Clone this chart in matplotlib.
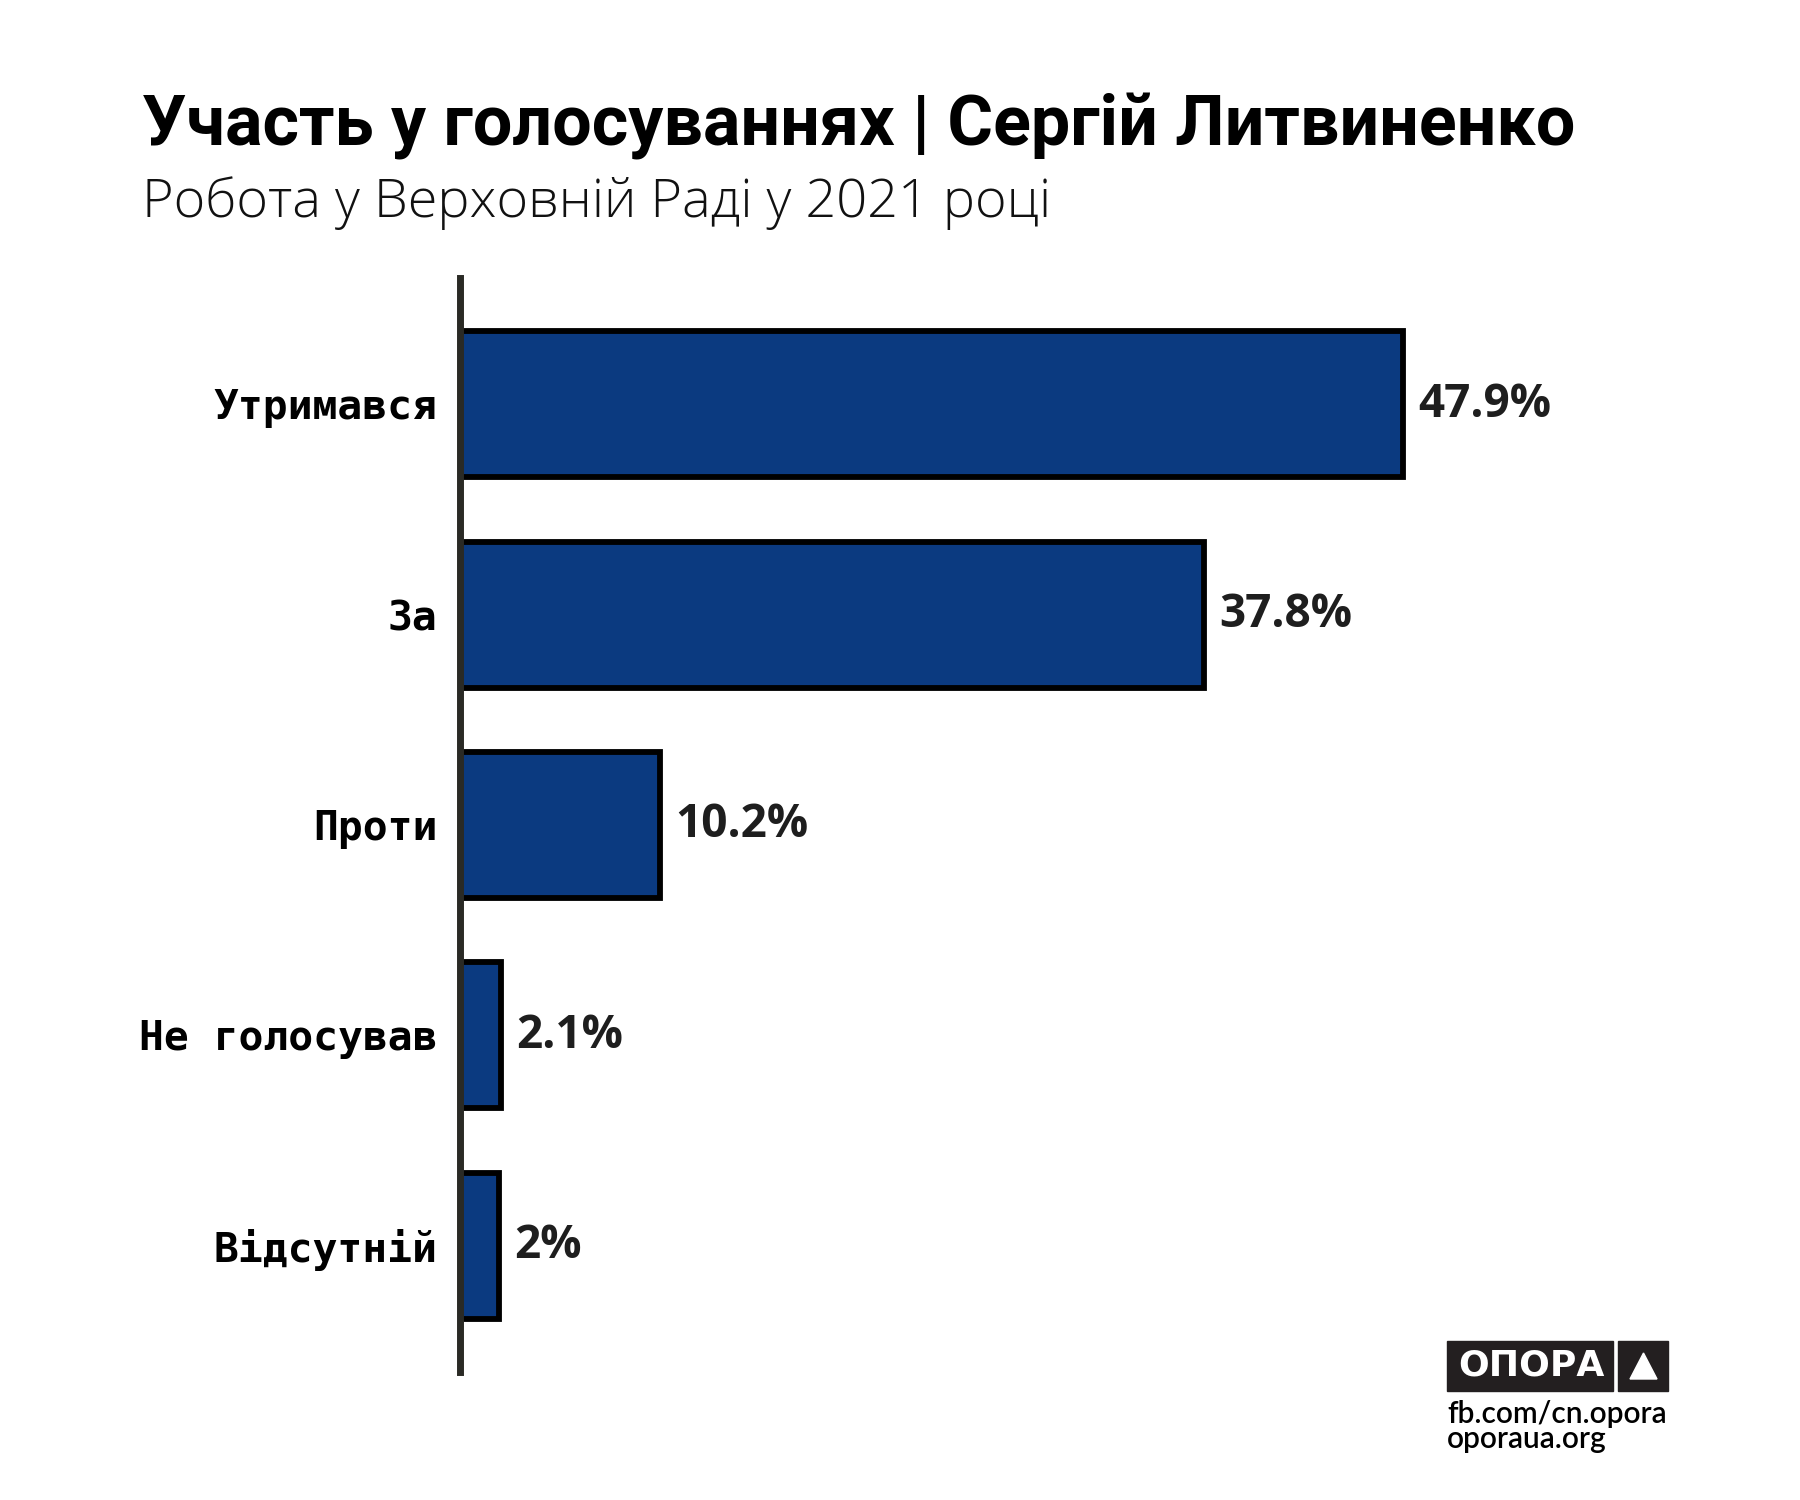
import matplotlib.pyplot as plt
from matplotlib.patches import Rectangle, Polygon

categories = ["Утримався", "За", "Проти", "Не голосував", "Відсутній"]
values = [47.9, 37.8, 10.2, 2.1, 2.0]

title = "Участь у голосуваннях | Сергій Литвиненко"
subtitle = "Робота у Верховній Раді у 2021 році"

BAR = "#0b3a80"
INK = "#1e1e1e"
W, H = 1800, 1500

def px(x, y):
    # pixel position (from top-left) -> figure fraction
    return x / W, 1 - y / H

fig = plt.figure(figsize=(18, 15), dpi=100)
fig.patch.set_facecolor("white")

# titles
fig.text(*px(141.5, 145), title, fontsize=50.4, fontweight="bold",
         family="Roboto", color="black", ha="left", va="baseline")
fig.text(*px(142, 217), subtitle, fontsize=39, fontweight="light",
         family="Open Sans", color="#111111", ha="left", va="baseline")

ax = fig.add_axes([459.5 / W, 1 - 1372 / H, 1182 / W, 1094 / H])
pos = list(range(len(categories)))
ax.barh(pos, values, height=0.695, color=BAR, edgecolor="black", linewidth=4.2,
        zorder=2)
ax.set_xlim(0, 60)
ax.set_ylim(len(categories) - 0.4, -0.6)

for p, v in zip(pos, values):
    ax.annotate(f"{v:g}%", xy=(v, p), xytext=(11, 0), textcoords="offset points",
                ha="left", va="center", fontsize=33, fontweight="bold",
                family="Open Sans", color=INK)

ax.set_yticks(pos)
ax.set_yticklabels(categories, family="DejaVu Sans Mono", fontweight="bold",
                   fontsize=29.8, color="black")
ax.tick_params(axis="y", length=0, pad=16)
ax.set_xticks([])
for s in ["top", "right", "bottom"]:
    ax.spines[s].set_visible(False)
ax.spines["left"].set_linewidth(5)
ax.spines["left"].set_color("#2a2a25")
ax.spines["left"].set_zorder(3)

# logo block
x0, y0 = px(1447, 1391)
fig.add_artist(Rectangle((x0, y0), (1613 - 1447) / W, 50 / H,
                         transform=fig.transFigure, color="#231f20"))
x1, _ = px(1618, 1391)
fig.add_artist(Rectangle((x1, y0), (1668 - 1618) / W, 50 / H,
                         transform=fig.transFigure, color="#231f20"))
fig.text(*px(1531, 1365), "ОПОРА", fontsize=26, fontweight="bold",
         family="DejaVu Sans", color="white", ha="center", va="center")
fig.add_artist(Polygon([px(1630, 1379), px(1657, 1379), px(1643.5, 1353)],
                       closed=True, transform=fig.transFigure, color="white"))
fig.text(*px(1447, 1423), "fb.com/cn.opora", fontsize=21.5, family="Lato",
         fontweight="semibold", color="black", ha="left", va="baseline")
fig.text(*px(1447, 1448), "oporaua.org", fontsize=21.5, family="Lato",
         fontweight="semibold", color="black", ha="left", va="baseline")

fig.savefig("out.png", dpi=100, facecolor="white")
